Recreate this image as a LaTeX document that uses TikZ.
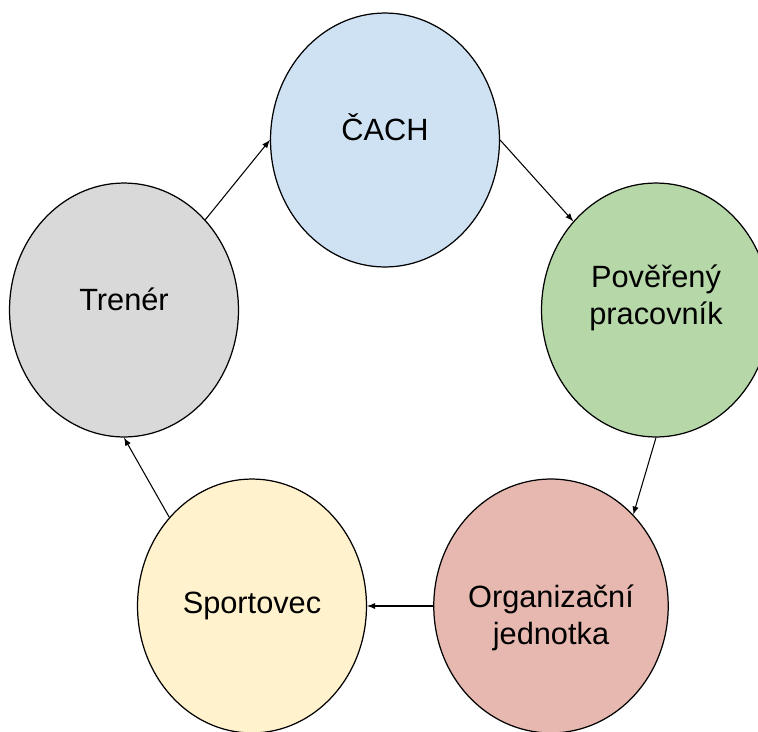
\documentclass[tikz,border=0pt]{standalone}
\usepackage{fontspec}
\setmainfont{Liberation Sans}
\usepackage{xcolor}
\usepackage{tikz}
\usetikzlibrary{arrows}
\usetikzlibrary{shapes.geometric}

\definecolor{cachblue}{HTML}{CFE2F3}
\definecolor{povgreen}{HTML}{B6D7A8}
\definecolor{orgred}{HTML}{E6B8AF}
\definecolor{sportyellow}{HTML}{FFF2CC}
\definecolor{trengray}{HTML}{D9D9D9}

\begin{document}
\begin{tikzpicture}[x=0.02cm,y=-0.02cm,
    bubble/.style={ellipse,draw,line width=0.7pt,inner sep=0pt,
      minimum width=4.58cm,minimum height=5.08cm,align=center,
      font=\fontsize{17.5}{21}\selectfont},
    flow/.style={-latex,line width=0.6pt}]
    \useasboundingbox (0,0) rectangle (758,731);
    \node[bubble,fill=cachblue,text depth=0.5cm] (cach) at (385,140) {ČACH};
    \node[bubble,fill=povgreen,text depth=0.6cm] (pov) at (656,310) {Pověřený\\pracovník};
    \node[bubble,fill=orgred,text height=1.68cm] (org) at (551,606) {Organizační\\jednotka};
    \node[bubble,fill=sportyellow] (sport) at (252,606) {Sportovec};
    \node[bubble,fill=trengray,text depth=0.45cm] (tren) at (124,310) {Trenér};
    \draw[flow] (cach.east) -- (pov.133);
    \draw[flow] (pov.south) -- (org.48);
    \draw[flow] (org.west) -- (sport.east);
    \draw[flow] (sport.133) -- (tren.south);
    \draw[flow] (tren.48) -- (cach.west);
  \end{tikzpicture}
\end{document}
